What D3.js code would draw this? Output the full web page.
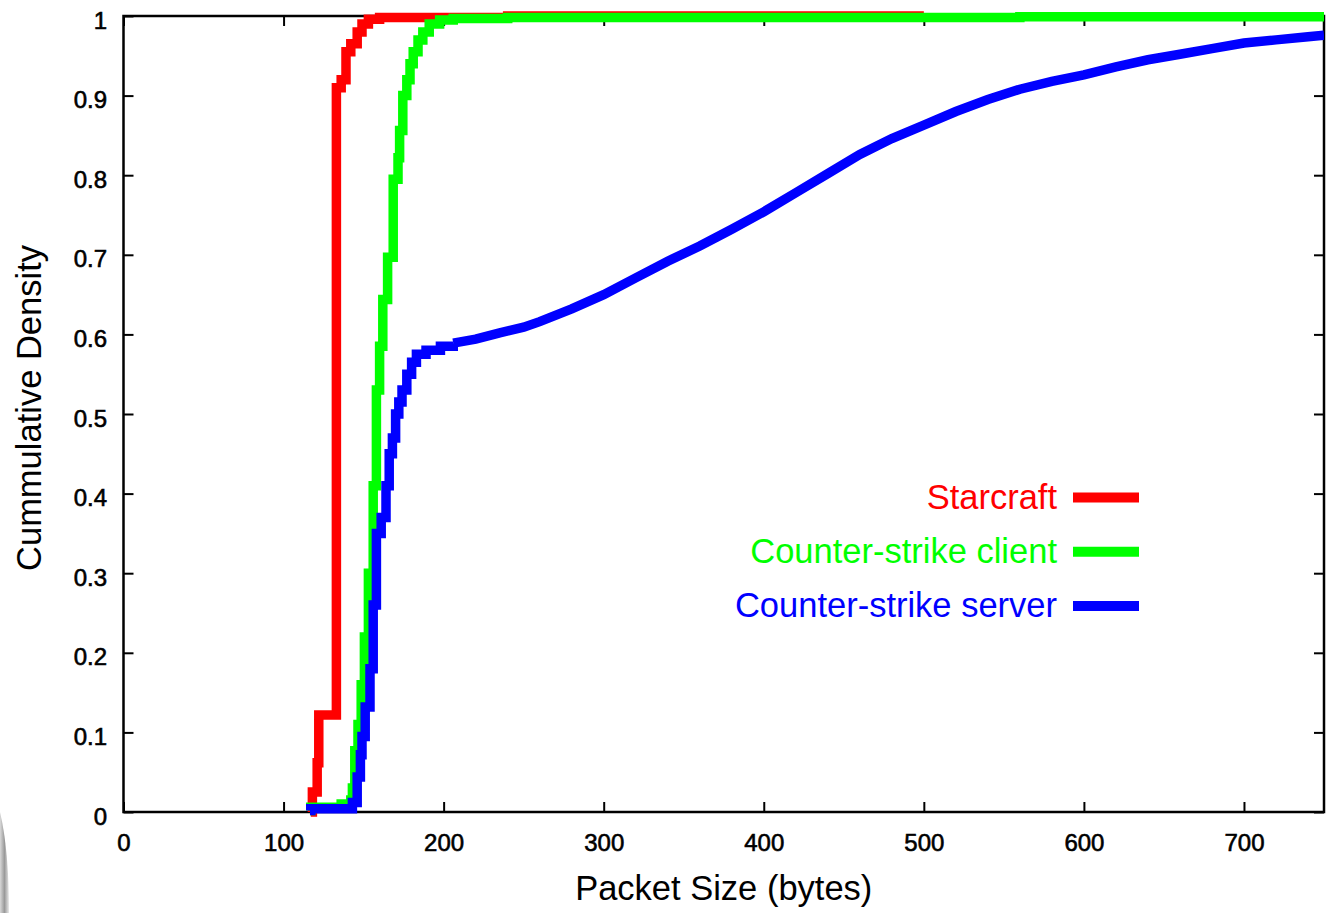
<!DOCTYPE html>
<html>
<head>
<meta charset="utf-8">
<script src="https://cdn.jsdelivr.net/npm/d3@7"></script>
<style>
  html, body { margin: 0; padding: 0; background: #fff; }
  svg { display: block; font-family: "Liberation Sans", Arial, sans-serif; }
</style>
</head>
<body>
<div id="chart"></div>
<script>
// packet size (bytes) vs cumulative density
var starcraft = [[117,0],[118,0.025],[121,0.062],[122,0.122],[133,0.91],[136,0.92],[139,0.955],
                 [142,0.965],[146,0.98],[149,0.99],[153,0.996],[160,0.998],[240,1],[500,1]];

var csClient = [[116.5,0.002],[117,0.006],[136,0.01],[142,0.015],[143,0.03],[144.5,0.077],[146.5,0.11],
                [148.5,0.16],[150.5,0.22],[153,0.3],[156,0.41],[158,0.53],[160,0.585],[162,0.644],
                [165,0.697],[168.5,0.795],[171.5,0.822],[172.5,0.856],[174.5,0.9],[177,0.92],
                [179,0.94],[181,0.955],[184,0.97],[187,0.98],[191,0.99],[197.5,0.995],[206,0.997],
                [240,0.998],[560,0.999],[750,0.999]];

// server: stepped low part, smooth tail
var csServerSteps = [[116.5,0.002],[117,0.004],[143,0.012],[146,0.044],[148,0.072],[149,0.095],[151,0.132],
                     [154,0.18],[156,0.26],[158,0.35],[161,0.37],[164,0.41],[166,0.45],[168,0.47],
                     [170,0.5],[172,0.515],[174,0.53],[177,0.55],[180,0.565],[183,0.575],[189,0.58],
                     [198,0.585],[206,0.589]];
var csServerTail = [[206,0.589],[220,0.594],[235,0.602],[250,0.609],[260,0.616],[280,0.632],[300,0.65],
                    [320,0.671],[340,0.692],[360,0.711],[380,0.732],[400,0.754],[420,0.778],[440,0.802],
                    [460,0.826],[480,0.846],[500,0.863],[520,0.88],[540,0.895],[560,0.908],[580,0.918],
                    [600,0.926],[620,0.936],[640,0.945],[660,0.952],[680,0.959],[700,0.966],[720,0.97],
                    [740,0.974],[750,0.976]];

var seriesNames = ["Starcraft", "Counter-strike client", "Counter-strike server"];
var seriesColors = ["#ff0000", "#00ff00", "#0000ff"];

var xTicks = [0,100,200,300,400,500,600,700];
var yTicks = [0,0.1,0.2,0.3,0.4,0.5,0.6,0.7,0.8,0.9,1];

var w = 1331, h = 913;
var plotL = 123.5, plotR = 1324, plotT = 16, plotB = 812;

var svg = d3.select("#chart").append("svg")
    .attr("width", w)
    .attr("height", h);

var defs = svg.append("defs");

// grey page-curl edge at bottom left
var grad = defs.append("linearGradient")
    .attr("id", "curl").attr("x1", 0).attr("x2", 1);
grad.append("stop").attr("offset", 0).attr("stop-color", "#d8d8d8");
grad.append("stop").attr("offset", 0.5).attr("stop-color", "#9a9a9a");
grad.append("stop").attr("offset", 1).attr("stop-color", "#e8e8e8");
svg.append("path")
    .attr("d", "M0,812 Q9,850 9,913 L0,913 Z")
    .attr("fill", "url(#curl)");

var x = d3.scaleLinear().domain([0, 750]).range([plotL, plotR]);
var y = d3.scaleLinear().domain([0, 1]).range([plotB, plotT]);

defs.append("clipPath").attr("id", "plot")
  .append("rect")
    .attr("x", plotL).attr("y", 0)
    .attr("width", plotR - plotL).attr("height", plotB + 6);

// axes, ticks pointing inward
var fmt = function(d) { return String(+d.toFixed(1)); };

var gx = svg.append("g")
    .attr("transform", "translate(0," + plotB + ")")
    .call(d3.axisBottom(x).tickValues(xTicks).tickFormat(fmt).tickSizeInner(-10).tickSizeOuter(0).tickPadding(22));
var gy = svg.append("g")
    .attr("transform", "translate(" + plotL + ",0)")
    .call(d3.axisLeft(y).tickValues(yTicks).tickFormat(fmt).tickSizeInner(-10).tickSizeOuter(0).tickPadding(16.5));
svg.append("g")
    .attr("transform", "translate(0," + plotT + ")")
    .call(d3.axisTop(x).tickValues(xTicks).tickFormat("").tickSizeInner(-10).tickSizeOuter(0));
svg.append("g")
    .attr("transform", "translate(" + plotR + ",0)")
    .call(d3.axisRight(y).tickValues(yTicks).tickFormat("").tickSizeInner(-10).tickSizeOuter(0));

svg.selectAll(".domain").remove();
svg.selectAll(".tick line").attr("stroke", "#000").attr("stroke-width", 2);
svg.selectAll(".tick text")
    .attr("fill", "#000")
    .attr("stroke", "#000")
    .attr("stroke-width", 0.6)
    .attr("font-size", 24)
    .attr("font-family", "'Liberation Sans', Arial, sans-serif");
gy.selectAll(".tick text").attr("dy", "0.5em");

svg.append("rect")
    .attr("x", plotL).attr("y", plotT)
    .attr("width", plotR - plotL).attr("height", plotB - plotT)
    .attr("fill", "none")
    .attr("stroke", "#000")
    .attr("stroke-width", 2.5);

// curves
var stepLine = d3.line()
    .x(function(d) { return x(d[0]); })
    .y(function(d) { return y(d[1]); })
    .curve(d3.curveStepAfter);
var smoothLine = d3.line()
    .x(function(d) { return x(d[0]); })
    .y(function(d) { return y(d[1]); });

var curves = [
  { data: starcraft, line: stepLine, color: seriesColors[0] },
  { data: csClient, line: stepLine, color: seriesColors[1] },
  { data: csServerSteps, line: stepLine, color: seriesColors[2] },
  { data: csServerTail, line: smoothLine, color: seriesColors[2] }
];

svg.append("g")
    .attr("clip-path", "url(#plot)")
  .selectAll("path")
  .data(curves)
  .enter()
  .append("path")
    .attr("d", function(c) { return c.line(c.data); })
    .attr("fill", "none")
    .attr("stroke", function(c) { return c.color; })
    .attr("stroke-width", 9.5)
    .attr("stroke-linejoin", "miter");

// legend
var legend = svg.append("g");
seriesNames.forEach(function(name, i) {
  var ly = 497.5 + i * 54.3;
  legend.append("text")
      .attr("x", 1057).attr("y", ly + 11)
      .attr("text-anchor", "end")
      .attr("fill", seriesColors[i])
      .style("font-size", "34.5px")
      .text(name);
  legend.append("line")
      .attr("x1", 1073).attr("x2", 1139)
      .attr("y1", ly).attr("y2", ly)
      .attr("stroke", seriesColors[i])
      .attr("stroke-width", 10);
});

// axis titles
svg.append("text")
    .attr("x", (plotL + plotR) / 2).attr("y", 900)
    .attr("text-anchor", "middle")
    .style("font-size", "34.5px")
    .text("Packet Size (bytes)");
svg.append("text")
    .attr("transform", "translate(41,408) rotate(-90)")
    .attr("text-anchor", "middle")
    .style("font-size", "34.5px")
    .text("Cummulative Density");
</script>
</body>
</html>
